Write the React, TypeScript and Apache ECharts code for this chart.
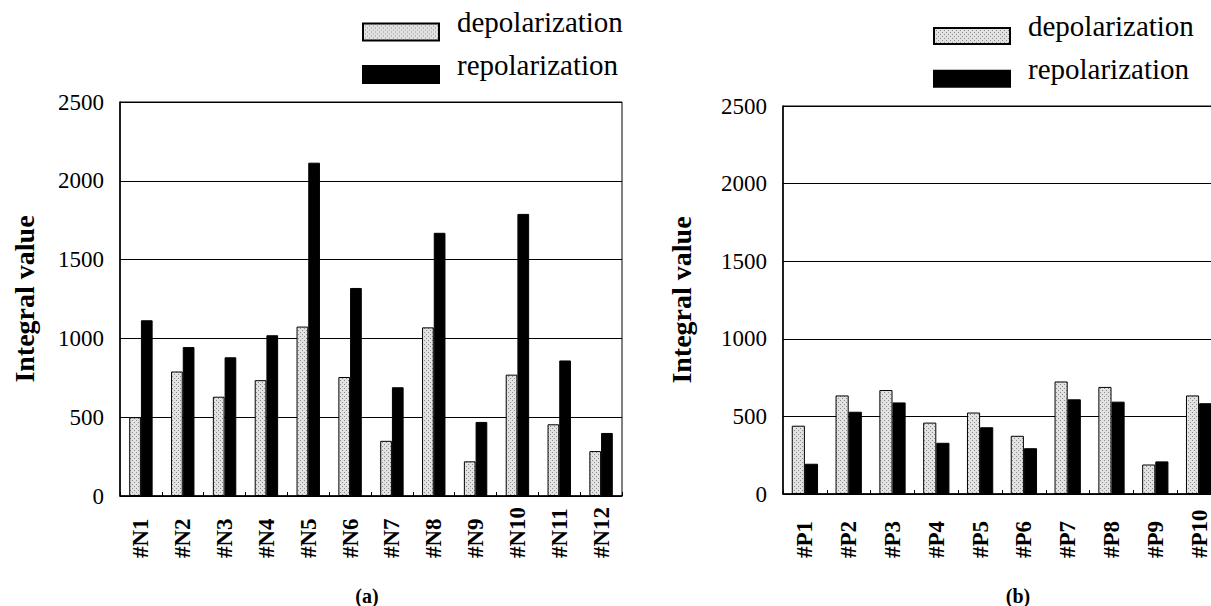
import React, { useEffect, useRef } from "react";
import * as echarts from "echarts";

// Panel (a): N-series recordings
const catsA = ["#N1", "#N2", "#N3", "#N4", "#N5", "#N6", "#N7", "#N8", "#N9", "#N10", "#N11", "#N12"];
const depolA = [500, 790, 630, 735, 1075, 755, 350, 1070, 220, 770, 455, 285];
const repolA = [1115, 945, 880, 1020, 2115, 1320, 690, 1670, 470, 1790, 860, 400];

// Panel (b): P-series recordings
const catsB = ["#P1", "#P2", "#P3", "#P4", "#P5", "#P6", "#P7", "#P8", "#P9", "#P10"];
const depolB = [440, 635, 670, 460, 525, 375, 725, 690, 190, 635];
const repolB = [195, 530, 590, 330, 430, 295, 610, 595, 210, 585];

const yTicks = { min: 0, max: 2500, interval: 500 };
const seriesNames = ["depolarization", "repolarization"];

const FONT = "'Liberation Serif', 'Times New Roman', serif";

// small stippled tile for the light bars
function makeStipple(): HTMLCanvasElement {
  const c = document.createElement("canvas");
  c.width = 4;
  c.height = 4;
  const ctx = c.getContext("2d")!;
  ctx.fillStyle = "#e2e2e2";
  ctx.fillRect(0, 0, 4, 4);
  ctx.fillStyle = "#8c8c8c";
  ctx.fillRect(0, 0, 1, 1);
  ctx.fillRect(2, 2, 1, 1);
  return c;
}

export default function App() {
  const ref = useRef<HTMLDivElement>(null);

  useEffect(() => {
    if (!ref.current) return;
    const chart = echarts.init(ref.current, undefined, { renderer: "svg" });
    const tile = makeStipple();
    const stipple: any = { image: tile, repeat: "repeat", imageWidth: 4, imageHeight: 4 };

    const xAxisBase = (gridIndex: number, data: string[], margin: number) => ({
      type: "category",
      gridIndex,
      data,
      axisLine: { lineStyle: { color: "#000", width: 1.5 } },
      axisTick: { show: true, inside: true, length: 4, lineStyle: { color: "#000" } },
      axisLabel: {
        interval: 0,
        rotate: 90,
        align: "left",
        verticalAlign: "middle",
        margin,
        fontSize: 23,
        fontWeight: "bold",
        color: "#000",
        fontFamily: FONT,
      },
    });

    const yAxisBase = (gridIndex: number, nameGap: number, lift: number) => ({
      type: "value",
      gridIndex,
      ...yTicks,
      axisLine: { show: true, lineStyle: { color: "#000", width: 1.5 } },
      axisTick: { show: false },
      splitLine: { lineStyle: { color: "#000", width: 1 } },
      axisLabel: {
        fontSize: 23,
        color: "#000",
        fontFamily: FONT,
        margin: 16,
        padding: [0, 0, lift * 2, 0],
        formatter: (v: number) => String(v),
      },
      name: "Integral value",
      nameLocation: "middle",
      nameGap,
      nameTextStyle: { fontSize: 28, fontWeight: "bold", color: "#000", fontFamily: FONT },
    });

    // Legend text sits on the swatch's centre line; a blank second line lifts it.
    const legendBase = (left: number, top: number, itemHeight: number, itemGap: number) => ({
      orient: "vertical",
      left,
      top,
      padding: 0,
      itemWidth: 76,
      itemHeight,
      itemGap,
      icon: "rect",
      data: seriesNames,
      selectedMode: false,
      formatter: (name: string) => `{t|${name}}\n{s| }`,
      textStyle: {
        color: "#000",
        fontFamily: FONT,
        rich: {
          t: { fontSize: 29, lineHeight: 30, color: "#000", fontFamily: FONT, padding: [0, 0, 0, 13] },
          s: { fontSize: 4, lineHeight: 20 },
        },
      },
    });

    const depolStyle = { color: stipple, borderColor: "#000", borderWidth: 1 };
    const repolStyle = { color: "#000", borderColor: "#000", borderWidth: 1 };

    chart.setOption({
      animation: false,
      backgroundColor: "#fff",
      textStyle: { fontFamily: FONT },
      grid: [
        { left: 120, top: 102, width: 502, height: 394, show: true, borderColor: "#000", borderWidth: 1 },
        { left: 783, top: 106, width: 438, height: 388, show: true, borderColor: "#000", borderWidth: 1 },
      ],
      xAxis: [xAxisBase(0, catsA, 62), xAxisBase(1, catsB, 64)],
      yAxis: [yAxisBase(0, 82, 6), yAxisBase(1, 88, 8)],
      legend: [legendBase(362, 7.5, 17, 1), legendBase(933, 11.5, 16, 1.3)],
      series: [
        {
          name: seriesNames[0], type: "bar", xAxisIndex: 0, yAxisIndex: 0, data: depolA,
          barGap: "0%", barCategoryGap: "44%", itemStyle: depolStyle,
        },
        {
          name: seriesNames[1], type: "bar", xAxisIndex: 0, yAxisIndex: 0, data: repolA,
          barGap: "0%", barCategoryGap: "44%", itemStyle: repolStyle,
        },
        {
          name: seriesNames[0], type: "bar", xAxisIndex: 1, yAxisIndex: 1, data: depolB,
          barGap: "0%", barCategoryGap: "40%", itemStyle: depolStyle,
        },
        {
          name: seriesNames[1], type: "bar", xAxisIndex: 1, yAxisIndex: 1, data: repolB,
          barGap: "0%", barCategoryGap: "40%", itemStyle: repolStyle,
        },
      ],
      graphic: [
        {
          type: "text", x: 367, y: 596,
          style: { text: "(a)", font: `bold 20px ${FONT}`, fill: "#000", align: "center", verticalAlign: "middle" },
        },
        {
          type: "text", x: 1018, y: 596,
          style: { text: "(b)", font: `bold 20px ${FONT}`, fill: "#000", align: "center", verticalAlign: "middle" },
        },
      ],
    });

    return () => chart.dispose();
  }, []);

  // The chart canvas is a little wider than the visible frame, so panel (b) runs off the right edge.
  return (
    <div
      style={{
        position: "fixed", left: 0, top: 0, width: 1211, height: 606,
        overflow: "hidden", background: "#fff",
      }}
    >
      <div ref={ref} style={{ width: 1240, height: 606 }} />
    </div>
  );
}
